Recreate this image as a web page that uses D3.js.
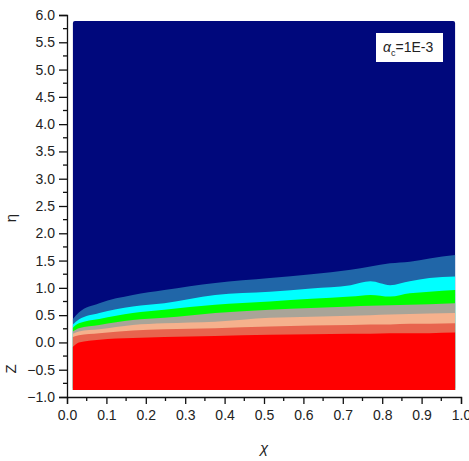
<!DOCTYPE html>
<html>
<head>
<meta charset="utf-8">
<script src="https://cdn.jsdelivr.net/npm/d3@7"></script>
<style>
  body { margin: 0; background: #fff; }
  svg { display: block; font-family: "Liberation Sans", Arial, sans-serif; }
  .tick text { fill: #222; font-size: 14px; }
</style>
</head>
<body>
<svg id="chart" width="469" height="461"></svg>
<script>
// chi positions where band edges were read
var chi = [0.015, 0.03, 0.082, 0.167, 0.247, 0.376, 0.515, 0.62, 0.72, 0.77, 0.82, 0.87, 0.92, 0.985];

// upper edge (eta) of each coloured band, top band first
var steelTop  = [0.43, 0.55, 0.72, 0.87, 0.96, 1.09, 1.18, 1.25, 1.33, 1.39, 1.45, 1.48, 1.54, 1.60];
var cyanTop   = [0.33, 0.42, 0.54, 0.66, 0.72, 0.87, 0.93, 0.99, 1.05, 1.12, 1.05, 1.12, 1.18, 1.21];
var greenTop  = [0.27, 0.35, 0.43, 0.54, 0.60, 0.69, 0.75, 0.80, 0.84, 0.87, 0.84, 0.90, 0.93, 0.96];
var grayTop   = [0.20, 0.26, 0.32, 0.41, 0.45, 0.54, 0.60, 0.63, 0.66, 0.67, 0.68, 0.69, 0.70, 0.72];
var salmonTop = [0.16, 0.20, 0.24, 0.32, 0.35, 0.38, 0.45, 0.47, 0.49, 0.50, 0.51, 0.52, 0.53, 0.54];
var tomatoTop = [0.10, 0.13, 0.17, 0.22, 0.24, 0.26, 0.29, 0.31, 0.32, 0.33, 0.33, 0.34, 0.34, 0.35];
var redTop    = [-0.08, 0.0, 0.05, 0.08, 0.10, 0.12, 0.14, 0.15, 0.16, 0.16, 0.17, 0.17, 0.17, 0.18];

var bandColors = ["#2066a8", "#00ffff", "#00ff00", "#a9a498", "#f5b18d", "#e8644e", "#ff0000"];

// extent of the computed field
var chiRange = [0.015, 0.985];
var etaRange = [-0.87, 5.89];

var xTicks = [0.0, 0.1, 0.2, 0.3, 0.4, 0.5, 0.6, 0.7, 0.8, 0.9, 1.0];
var yTicks = [-1.0, -0.5, 0.0, 0.5, 1.0, 1.5, 2.0, 2.5, 3.0, 3.5, 4.0, 4.5, 5.0, 5.5, 6.0];

var vis = d3.select("#chart");

var xScale = d3.scaleLinear().domain([0, 1]).range([67, 461]);
var yScale = d3.scaleLinear().domain([-1, 6]).range([397, 15]);

// background band (navy)
vis.append("rect")
    .attr("x", xScale(chiRange[0]))
    .attr("y", yScale(etaRange[1]))
    .attr("width", xScale(chiRange[1]) - xScale(chiRange[0]))
    .attr("height", yScale(etaRange[0]) - yScale(etaRange[1]))
    .attr("rx", 2)
    .attr("fill", "#00087c");

var bands = [steelTop, cyanTop, greenTop, grayTop, salmonTop, tomatoTop, redTop];

var areaGen = d3.area()
    .x(function(d, i) { return xScale(chi[i]); })
    .y0(yScale(etaRange[0]))
    .y1(function(d) { return yScale(d); })
    .curve(d3.curveMonotoneX);

bands.forEach(function(b, k) {
    vis.append("path")
        .attr("d", areaGen(b))
        .attr("fill", bandColors[k]);
});

// axes
var xAxis = d3.axisBottom(xScale).tickValues(xTicks).tickFormat(d3.format(".1f")).tickSizeOuter(0).tickSize(7).tickPadding(4);
var yAxis = d3.axisLeft(yScale).tickValues(yTicks).tickFormat(d3.format(".1f")).tickSizeOuter(0).tickSize(8).tickPadding(4);

var gx = vis.append("g").attr("transform", "translate(0,397)").call(xAxis);
var gy = vis.append("g").attr("transform", "translate(67,0)").call(yAxis);
gx.selectAll("path, line").attr("stroke", "#111").attr("stroke-width", 1.3);
gy.selectAll("path, line").attr("stroke", "#111").attr("stroke-width", 1.3);
gx.selectAll("text").attr("dy", "0.85em");

// minor ticks
var xMinor = d3.range(0.05, 1, 0.1);
var yMinor = d3.range(-0.75, 6, 0.5);
vis.append("g").selectAll("line").data(xMinor).enter().append("line")
    .attr("x1", function(d) { return xScale(d); })
    .attr("x2", function(d) { return xScale(d); })
    .attr("y1", 397).attr("y2", 401)
    .attr("stroke", "#111").attr("stroke-width", 1.3);
vis.append("g").selectAll("line").data(yMinor).enter().append("line")
    .attr("y1", function(d) { return yScale(d); })
    .attr("y2", function(d) { return yScale(d); })
    .attr("x1", 63).attr("x2", 67)
    .attr("stroke", "#111").attr("stroke-width", 1.3);

// axis labels
vis.append("text")
    .attr("x", 264).attr("y", 453)
    .attr("text-anchor", "middle")
    .attr("font-size", 15)
    .attr("font-style", "italic")
    .attr("fill", "#222")
    .text("χ");

vis.append("text")
    .attr("transform", "translate(16,218) rotate(-90)")
    .attr("text-anchor", "middle")
    .attr("font-size", 15)
    .attr("fill", "#222")
    .text("η");

vis.append("text")
    .attr("transform", "translate(16,369) rotate(-90)")
    .attr("text-anchor", "middle")
    .attr("font-size", 15)
    .attr("fill", "#222")
    .text("Z");

// legend box
vis.append("rect")
    .attr("x", 376).attr("y", 33)
    .attr("width", 67).attr("height", 29)
    .attr("fill", "#fff");

var leg = vis.append("text")
    .attr("x", 383).attr("y", 52)
    .attr("font-size", 14)
    .attr("fill", "#222");
leg.append("tspan").attr("font-style", "italic").text("α");
leg.append("tspan").attr("font-size", 9).attr("dy", 4).text("c");
leg.append("tspan").attr("dy", -4).text("=1E-3");
</script>
</body>
</html>
